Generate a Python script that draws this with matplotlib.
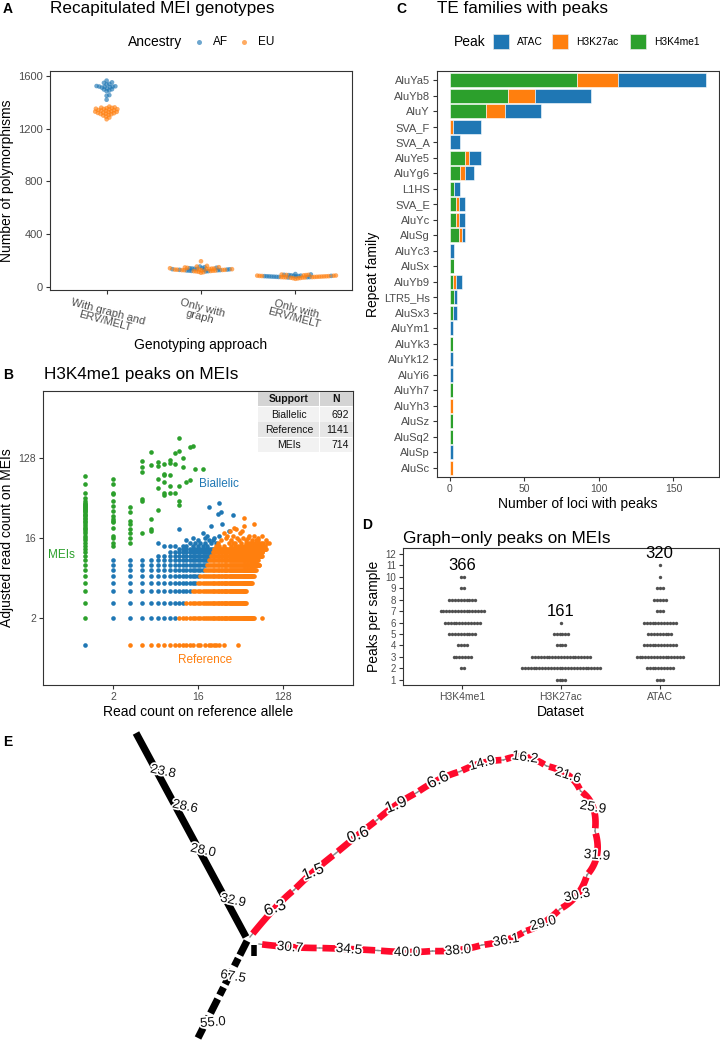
import numpy as np
import matplotlib.pyplot as plt
import matplotlib.patheffects as pe
from matplotlib.lines import Line2D
from matplotlib.patches import Rectangle
from matplotlib.ticker import NullLocator

plt.rcParams['font.family'] = ['Liberation Sans', 'DejaVu Sans']

# ---------------- data ----------------
# A: MEI genotypes per sample
a_groups = ['With graph and\nERV/MELT', 'Only with\ngraph', 'Only with\nERV/MELT']
a_af_both = [1565, 1552, 1548, 1540, 1536, 1524, 1522, 1520, 1518, 1516, 1520, 1512,
             1505, 1500, 1498, 1490, 1485, 1455, 1450, 1420]
a_eu_both = [1368, 1362, 1360, 1358, 1356, 1352, 1350, 1348, 1346, 1342, 1340, 1338,
             1336, 1332, 1330, 1328, 1326, 1322, 1320, 1318, 1315, 1312, 1310, 1305,
             1300, 1292, 1285, 1272]
a_af_graph = [118, 120, 122, 124, 125, 127, 128, 130, 131, 132, 134, 135, 136, 138,
              140, 142, 144, 146, 150, 155]
a_eu_graph = [108, 112, 115, 118, 120, 121, 123, 124, 126, 127, 128, 129, 130, 131,
              132, 133, 135, 136, 137, 139, 140, 142, 145, 148, 150, 155, 160, 195]
a_af_melt = [72, 74, 75, 76, 77, 78, 79, 80, 80, 81, 82, 83, 84, 85, 86, 88, 90, 92,
             95, 98]
a_eu_melt = [62, 65, 67, 68, 70, 71, 72, 73, 74, 75, 75, 76, 77, 78, 79, 80, 81, 82,
             83, 84, 85, 86, 87, 88, 90, 91, 92, 94]

# B: read counts, dense rows (adjusted count y) with x ranges for each class
b_rows = [2, 3, 4, 5, 6, 7, 8, 9, 10, 11, 12]
b_blue_from = [2, 2, 2, 2, 2, 2, 2, 2, 6, 8, 10]
b_blue_to = [9, 11, 13, 15, 16, 18, 19, 20, 21, 22, 23]
b_orange_from = [10, 12, 14, 16, 17, 19, 20, 21, 22, 23, 24]
b_orange_to = [63, 52, 52, 60, 63, 66, 72, 70, 77, 78, 85]
b_ref_row1_x = [3, 4, 5, 6, 7, 8, 9, 10, 11, 12, 13, 14, 16, 17, 19, 21, 22, 24, 25,
                27, 30, 43]
b_mei_y = [2, 3, 4, 5, 6, 7, 8, 9, 10, 11, 12, 13, 14, 15, 16, 17, 18, 19, 20, 21, 22,
           23, 24, 25, 26, 27, 28, 29, 30, 31, 32, 33, 34, 35, 36, 37, 38, 39, 40, 42,
           45, 52, 65, 79]
b_green = [(2, 13), (2, 14), (2, 16), (2, 17), (2, 21), (2, 24), (2, 25), (2, 26),
           (2, 28), (2, 32), (2, 37), (2, 42), (2, 50), (2, 52), (2, 65), (2, 74),
           (3, 14), (3, 16), (3, 18), (3, 20), (3, 23), (3, 25), (3, 31), (3, 36),
           (10, 215), (13, 170), (14, 174), (10, 153), (9, 146), (11, 129), (5, 147),
           (4, 118), (8, 120), (6, 115), (8, 113), (9, 109), (7, 108), (5, 106),
           (6, 104), (4, 102), (11, 100), (15, 97), (18, 95), (4, 88), (7, 84),
           (7, 82), (8, 82), (6, 73), (7, 68), (13, 72), (12, 69), (6, 58), (8, 61),
           (10, 62), (7, 51), (8, 51), (9, 52), (7, 49), (10, 42), (10, 38), (4, 42),
           (4, 44), (6, 33), (5, 26), (5, 20), (5, 19), (4, 18)]
b_blue = [(1, 1), (21, 36), (27, 40), (26, 30), (28, 31), (38, 29), (10, 20), (18, 18),
          (22, 22), (29, 23), (34, 19), (20, 17), (27, 17), (6, 14), (8, 13), (9, 13),
          (11, 13), (12, 15), (16, 13), (18, 13), (23, 15), (24, 16), (16, 15),
          (13, 14), (15, 14), (17, 14), (19, 14), (20, 13), (22, 14), (14, 16),
          (19, 16), (21, 15), (25, 14), (12, 13), (14, 13), (7, 13)]
b_orange = [(77, 2), (50, 27), (64, 23), (50, 22), (41, 20), (45, 18), (38, 17),
            (32, 16), (42, 16), (48, 16), (55, 16), (60, 15), (36, 15), (28, 15),
            (44, 15), (52, 15), (66, 15), (70, 15), (34, 14), (40, 14), (46, 14),
            (58, 14), (62, 14), (75, 14), (80, 14), (88, 14), (92, 14), (26, 14),
            (30, 13), (36, 13), (43, 13), (50, 13), (54, 13), (68, 13), (72, 13),
            (78, 13), (84, 13), (30, 18), (35, 19), (39, 21), (33, 17), (47, 19),
            (56, 17), (64, 17), (70, 16), (85, 15), (77, 17), (27, 13), (25, 13),
            (40, 13), (46, 13), (58, 13), (62, 13), (65, 13), (38, 14), (52, 14),
            (55, 14), (66, 14), (70, 14)]
b_table_support = ['Biallelic', 'Reference', 'MEIs']
b_table_n = [692, 1141, 714]

# C: TE families with peaks
c_families = ['AluYa5', 'AluYb8', 'AluY', 'SVA_F', 'SVA_A', 'AluYe5', 'AluYg6', 'L1HS',
              'SVA_E', 'AluYc', 'AluSg', 'AluYc3', 'AluSx', 'AluYb9', 'LTR5_Hs',
              'AluSx3', 'AluYm1', 'AluYk3', 'AluYk12', 'AluYi6', 'AluYh7', 'AluYh3',
              'AluSz', 'AluSq2', 'AluSp', 'AluSc']
c_h3k4me1 = [85, 39, 24, 0, 0, 10, 7, 3, 4, 4, 6, 0, 3, 2, 3, 2, 0, 2, 0, 0, 2, 0, 2, 2, 0, 0]
c_h3k27ac = [28, 18, 13, 2, 0, 3, 3, 0, 2, 2, 2, 0, 0, 2, 0, 0, 0, 0, 0, 0, 0, 2, 0, 0, 0, 2]
c_atac = [59, 38, 24, 19, 7, 8, 6, 4, 4, 4, 2, 3, 0, 4, 2, 3, 2, 0, 2, 2, 0, 0, 0, 0, 2, 0]

# D: graph-only peaks per sample (number of samples at each level)
d_datasets = ['H3K4me1', 'H3K27ac', 'ATAC']
d_levels = [1, 2, 3, 4, 5, 6, 7, 8, 9, 10, 11, 12]
d_h3k4me1 = [0, 2, 7, 4, 10, 13, 16, 10, 2, 2, 0, 0]
d_h3k27ac = [4, 28, 21, 4, 6, 1, 0, 0, 0, 0, 0, 0]
d_atac = [3, 10, 17, 12, 9, 12, 3, 5, 3, 1, 1, 0]
d_totals = [366, 161, 320]

# E: graph layout (node centres along paths) and node depths
e_black_lab = ['23.8', '28.6', '28.0', '32.9']
e_black_x = [163, 185, 203, 233]
e_black_y = [772, 807, 851, 901]
e_black_rot = [-12, -12, -12, -12]
e_black2_lab = ['67.5', '55.0']
e_black2_x = [233, 213]
e_black2_y = [977, 1023]
e_black2_rot = [-10, 5]
e_red_lab = ['6.3', '1.5', '0.6', '1.9', '6.6', '14.9', '16.2', '21.6', '25.9', '31.9',
             '30.3', '29.0', '36.1', '38.0', '40.0', '34.5', '30.7']
e_red_x = [275, 313, 358, 396, 438, 482, 525, 568, 593, 597, 577, 543, 506, 458, 407, 349, 290]
e_red_y = [908, 872, 835, 805, 780, 763, 757, 775, 807, 855, 895, 923, 940, 950, 952, 949, 947]
e_red_rot = [20, 22, 22, 22, 25, 15, -8, -18, -10, -5, 12, 15, 10, 5, 0, -5, -5]

BLUE, ORANGE, GREEN = '#1f77b4', '#ff7f0e', '#2ca02c'
RED = '#FF0A2C'
TXT = '#4D4D4D'
W, H = 720, 1040

fig = plt.figure(figsize=(7.2, 10.4), dpi=100)


def rect(l, t, r, b):
    return [l / W, 1 - b / H, (r - l) / W, (b - t) / H]


def ftext(x, y, s, **kw):
    fig.text(x / W, 1 - y / H, s, **kw)


def style(ax):
    for s in ax.spines.values():
        s.set_color('#333333')
        s.set_linewidth(0.8)
    ax.tick_params(colors='#333333', labelcolor=TXT, length=3, width=0.8, pad=2)


def swarm(vals, xs, ys, d):
    # simple beeswarm: px per unit in x (xs) and y (ys), d = dot spacing px
    order = np.argsort(vals, kind='stable')
    placed = []
    offs = np.zeros(len(vals))
    cands = [0.0]
    for j in range(1, 400):
        cands += [j * d * 0.25, -j * d * 0.25]
    for i in order:
        y = vals[i] * ys
        for c in cands:
            if all((c - px) ** 2 + (y - py) ** 2 >= d * d for px, py in placed):
                break
        placed.append((c, y))
        offs[i] = c / xs
    return offs


# ---------------- A ----------------
ftext(3, 9, 'A', fontsize=10, fontweight='bold', va='center')
ftext(50, 9, 'Recapitulated MEI genotypes', fontsize=12.3, va='center')
axA = fig.add_axes(rect(50, 71, 352, 290))
style(axA)
for gi, (af, eu) in enumerate([(a_af_both, a_eu_both), (a_af_graph, a_eu_graph),
                               (a_af_melt, a_eu_melt)]):
    vals = np.array(af + eu, float)
    cols = [BLUE] * len(af) + [ORANGE] * len(eu)
    offs = swarm(vals, 95.0, 211.0 / 1600, [2.7, 2.4, 2.4][gi])
    axA.scatter(gi + 1 + offs, vals, c=cols, s=11, alpha=0.65, linewidths=0)
axA.set_xlim(0.4, 3.6)
axA.set_ylim(-23, 1638)
axA.set_yticks([0, 400, 800, 1200, 1600])
axA.set_xticks([1, 2, 3])
axA.set_xticklabels(a_groups, rotation=-15, ha='center', va='top', fontsize=8,
                    linespacing=0.95)
axA.tick_params(axis='y', labelsize=8)
axA.set_ylabel('Number of polymorphisms', fontsize=10, labelpad=3)
axA.set_xlabel('Genotyping approach', fontsize=10, labelpad=2)
ftext(128, 42, 'Ancestry', fontsize=10, va='center')
for xp, col, lab in [(199, BLUE, 'AF'), (244, ORANGE, 'EU')]:
    fig.add_artist(Line2D([xp / W], [1 - 42 / H], marker='o', ms=3.6, color=col,
                          alpha=0.65, mec='none', transform=fig.transFigure))
    ftext(xp + 14, 42, lab, fontsize=8.5, va='center')

# ---------------- B ----------------
ftext(3, 375, 'B', fontsize=10, fontweight='bold', va='center')
ftext(44, 375, 'H3K4me1 peaks on MEIs', fontsize=12.3, va='center')
axB = fig.add_axes(rect(43, 391, 353, 685))
style(axB)
bx_b, by_b, bx_o, by_o = [], [], [], []
for y, b0, b1, o0, o1 in zip(b_rows, b_blue_from, b_blue_to, b_orange_from, b_orange_to):
    xs = np.arange(b0, b1 + 1)
    bx_b += list(xs)
    by_b += [y] * len(xs)
    xs = np.arange(o0, o1 + 1)
    bx_o += list(xs)
    by_o += [y] * len(xs)
bx_o += b_ref_row1_x
by_o += [1] * len(b_ref_row1_x)
bx_o += [p[0] for p in b_orange]
by_o += [p[1] for p in b_orange]
bx_b += [p[0] for p in b_blue]
by_b += [p[1] for p in b_blue]
gx = [1] * len(b_mei_y) + [p[0] for p in b_green]
gy = list(b_mei_y) + [p[1] for p in b_green]
axB.scatter(bx_b, by_b, s=11, c=BLUE, linewidths=0)
axB.scatter(bx_o, by_o, s=11, c=ORANGE, linewidths=0)
axB.scatter(gx, gy, s=11, c=GREEN, linewidths=0)
axB.set_xscale('log', base=2)
axB.set_yscale('log', base=2)
axB.set_xlim(2 ** -1.5, 2 ** 9.5)
axB.set_ylim(2 ** -1.5, 2 ** 9.5)
axB.set_xticks([2, 16, 128])
axB.set_xticklabels(['2', '16', '128'])
axB.set_yticks([2, 16, 128])
axB.set_yticklabels(['2', '16', '128'])
axB.xaxis.set_minor_locator(NullLocator())
axB.yaxis.set_minor_locator(NullLocator())
axB.tick_params(labelsize=7.5)
axB.set_xlabel('Read count on reference allele', fontsize=10, labelpad=2)
axB.set_ylabel('Adjusted read count on MEIs', fontsize=10, labelpad=3)
axB.text(0.568, 0.684, 'Biallelic', color=BLUE, fontsize=8.5, ha='center', va='center',
         transform=axB.transAxes)
axB.text(0.061, 0.442, 'MEIs', color=GREEN, fontsize=8.5, ha='center', va='center',
         transform=axB.transAxes)
axB.text(0.523, 0.085, 'Reference', color=ORANGE, fontsize=8.5, ha='center',
         va='center', transform=axB.transAxes)
# table
rows_tab = [('Support', 'N')] + [(s, str(n)) for s, n in zip(b_table_support, b_table_n)]
fills = ['#D4D4D4', '#F2F2F2', '#E6E6E6', '#F2F2F2']
for ri, (s, n) in enumerate(rows_tab):
    t = 392 + ri * 15.2
    for (l, r) in [(258, 319), (320, 353)]:
        fig.add_artist(Rectangle((l / W, 1 - (t + 14.4) / H), (r - l) / W, 14.4 / H,
                                 facecolor=fills[ri], edgecolor='none',
                                 transform=fig.transFigure))
    wt = 'bold' if ri == 0 else 'normal'
    ftext(289, t + 7.4, s, fontsize=7.5, ha='center', va='center', fontweight=wt,
          color='#111111')
    if ri == 0:
        ftext(336, t + 7.4, n, fontsize=7.5, ha='center', va='center', fontweight=wt,
              color='#111111')
    else:
        ftext(349, t + 7.4, n, fontsize=7.5, ha='right', va='center', color='#111111')

# ---------------- C ----------------
ftext(396, 9, 'C', fontsize=10, fontweight='bold', va='center')
ftext(437, 9, 'TE families with peaks', fontsize=12.3, va='center')
axC = fig.add_axes(rect(437, 71, 719, 477))
style(axC)
yc = np.arange(len(c_families))
g = np.array(c_h3k4me1)
o = np.array(c_h3k27ac)
b = np.array(c_atac)
kw = dict(height=0.9, edgecolor='white', linewidth=0.4)
axC.barh(yc, g, color=GREEN, **kw)
axC.barh(yc, o, left=g, color=ORANGE, **kw)
axC.barh(yc, b, left=g + o, color=BLUE, **kw)
axC.set_ylim(len(c_families) - 0.4, -0.6)
axC.set_xlim(-8.6, 180.6)
axC.set_yticks(yc)
axC.set_yticklabels(c_families, fontsize=8)
axC.set_xticks([0, 50, 100, 150])
axC.tick_params(axis='x', labelsize=7.5)
axC.set_xlabel('Number of loci with peaks', fontsize=10, labelpad=2)
axC.set_ylabel('Repeat family', fontsize=10, labelpad=3)
ftext(454, 42, 'Peak', fontsize=10, va='center')
for l, col, lab in [(493, BLUE, 'ATAC'), (552, ORANGE, 'H3K27ac'), (630, GREEN, 'H3K4me1')]:
    fig.add_artist(Rectangle((l / W, 1 - 49 / H), 16 / W, 15 / H, facecolor=col,
                             edgecolor='#E8E8E8', linewidth=0.5, transform=fig.transFigure))
    ftext(l + 24, 42, lab, fontsize=7.4, va='center')

# ---------------- D ----------------
ftext(362, 525, 'D', fontsize=10, fontweight='bold', va='center')
ftext(403, 538, 'Graph\u2212only peaks on MEIs', fontsize=12.3, va='center')
axD = fig.add_axes(rect(403, 548, 719, 685))
style(axD)
step = 2.9 / 99
for i, counts in enumerate([d_h3k4me1, d_h3k27ac, d_atac]):
    top = 0
    for lev, n in zip(d_levels, counts):
        if n:
            xs = i + 1 + (np.arange(n) - (n - 1) / 2) * step
            axD.scatter(xs, [lev] * n, s=6, c='#505050', linewidths=0)
            top = lev
    axD.text(i + 1, top + 1, str(d_totals[i]), ha='center', va='center', fontsize=12)
axD.set_xlim(0.4, 3.6)
axD.set_ylim(0.55, 12.5)
axD.set_yticks(d_levels)
axD.set_xticks([1, 2, 3])
axD.set_xticklabels(d_datasets, fontsize=7.5)
axD.tick_params(axis='y', labelsize=7)
axD.set_xlabel('Dataset', fontsize=10, labelpad=2)
axD.set_ylabel('Peaks per sample', fontsize=10, labelpad=3)

# ---------------- E ----------------
ftext(3, 742, 'E', fontsize=10, fontweight='bold', va='center')
axE = fig.add_axes(rect(0, 715, 720, 1040))
axE.set_xlim(0, 720)
axE.set_ylim(1040, 715)
axE.axis('off')
halo = [pe.withStroke(linewidth=2.5, foreground='white')]

axE.plot([136, 246], [733, 937], color='black', lw=5.2, solid_capstyle='butt')
axE.plot([247, 198], [941, 1038], color='black', lw=5.2, dashes=(2.2, 0.5, 1.2, 0.6),
         dash_capstyle='butt')
axE.plot([254, 254], [945, 956], color='black', lw=4, solid_capstyle='butt')
for lab, x, y, r in zip(e_black_lab + e_black2_lab, e_black_x + e_black2_x,
                        e_black_y + e_black2_y, e_black_rot + e_black2_rot):
    axE.text(x, y, lab, fontsize=9.5, ha='center', va='center', rotation=r,
             path_effects=halo, color='#111111')

L = np.column_stack([e_red_x, e_red_y]).astype(float)
start = np.array([250.0, 937.0])
end = np.array([259.0, 944.0])
B = [start] + [(L[i] + L[i + 1]) / 2 for i in range(len(L) - 1)] + [end]


def qbez(p0, c, p1, t):
    t = t[:, None]
    return (1 - t) ** 2 * p0 + 2 * (1 - t) * t * c + t ** 2 * p1


for i in range(len(L)):
    c = 2 * L[i] - 0.5 * (B[i] + B[i + 1])
    full = qbez(B[i], c, B[i + 1], np.linspace(0, 1, 30))
    axE.plot(full[:, 0], full[:, 1], color='#888888', lw=1)
    seg = qbez(B[i], c, B[i + 1], np.linspace(0.05, 0.95, 30))
    axE.plot(seg[:, 0], seg[:, 1], color=RED, lw=4.8, solid_capstyle='butt')
for lab, (x, y), r in zip(e_red_lab, L, e_red_rot):
    fs = 11.5 if len(lab) == 3 else 9.8
    axE.text(x, y, lab, fontsize=fs, ha='center', va='center', rotation=r,
             path_effects=halo, color='#111111')

fig.savefig('out.png', dpi=100)
